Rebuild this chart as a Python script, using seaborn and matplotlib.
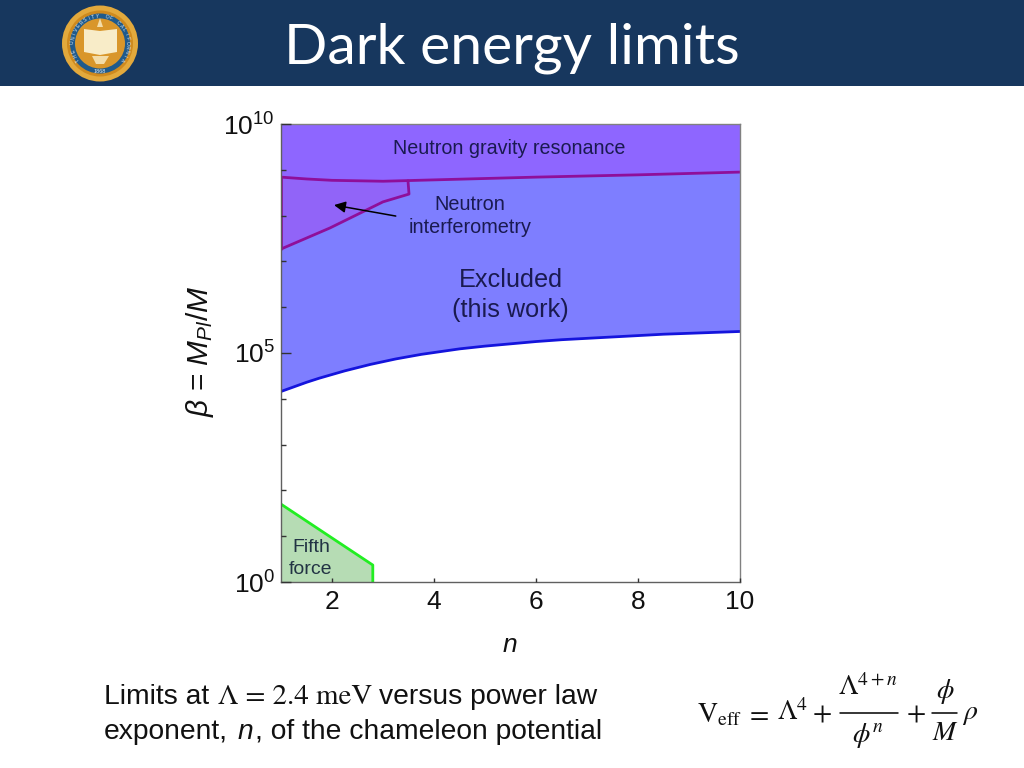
# Dark energy limits slide, chameleon exclusion plot
import numpy as np
import matplotlib
matplotlib.use('Agg')
import matplotlib.pyplot as plt
from matplotlib.patches import Circle, Rectangle, Polygon
import seaborn as sns

# values are log10(beta)
blue_n = [1, 1.25, 1.5, 1.75, 2, 2.25, 2.5, 2.75, 3, 3.25, 3.5, 3.75, 4, 4.5, 5, 5.5, 6, 6.5, 7, 7.5, 8, 8.5, 9, 9.5, 10]
blue_log = [4.16, 4.26, 4.36, 4.45, 4.53, 4.61, 4.68, 4.75, 4.81, 4.87, 4.92, 4.97, 5.01, 5.09, 5.15, 5.20, 5.25,
            5.29, 5.32, 5.35, 5.38, 5.41, 5.43, 5.45, 5.47]
gravity_n = [1, 1.5, 2, 3, 4, 6, 8, 10]
gravity_log = [8.84, 8.80, 8.77, 8.75, 8.78, 8.84, 8.89, 8.95]
interf_n = [1, 1.96, 3.0, 3.51, 3.49]
interf_log = [7.27, 7.73, 8.30, 8.47, 8.76]
fifth_n = [1, 2.80, 2.80]
fifth_log = [1.70, 0.37, 0]
x_ticks = [2, 4, 6, 8, 10]
y_minor = [1, 2, 3, 4, 6, 7, 8, 9]
y_major = [0, 5, 10]

sns.set_theme(style='white')
plt.rcParams['font.family'] = ['Liberation Sans', 'DejaVu Sans']
plt.rcParams['text.color'] = '#111111'
plt.rcParams['mathtext.fontset'] = 'custom'
plt.rcParams['mathtext.rm'] = 'Liberation Sans'
plt.rcParams['mathtext.it'] = 'Liberation Sans:italic'
plt.rcParams['mathtext.bf'] = 'Liberation Sans:bold'

fig = plt.figure(figsize=(10.24, 7.68), dpi=100, facecolor='white')

# backdrop axes in pixel units for the slide furniture
bg = fig.add_axes([0, 0, 1, 1])
bg.set_xlim(0, 1024)
bg.set_ylim(768, 0)
bg.axis('off')
navy = '#17375e'
bg.add_patch(Rectangle((0, 0), 1024, 86, color=navy, lw=0))
bg.text(512, 63, 'Dark energy limits', color='white', fontsize=41, family='Lato',
        ha='center', va='baseline')

# university seal
cx, cy = 100, 43.5
bg.add_patch(Circle((cx, cy), 38, color='#e3a93c', lw=0))
bg.add_patch(Circle((cx, cy), 33, color='#cf8a1e', lw=0))
bg.add_patch(Circle((cx, cy), 30, color='#1f5a8c', lw=0))
bg.add_patch(Circle((cx, cy), 25, color='#d9962a', lw=0))
bg.add_patch(Polygon([(84, 29), (100, 31), (117, 29), (117, 52), (100, 55), (84, 52)],
                     color='#f8ecc8', lw=0))
bg.add_patch(Polygon([(92, 56), (109, 56), (104, 64), (96, 64)], color='#f3dca8', lw=0))
bg.add_patch(Polygon([(100, 18), (103, 27), (97, 27)], color='#f3dca8', lw=0))
seal_text = 'THE UNIVERSITY OF CALIFORNIA'
for i, ch in enumerate(seal_text):
    ang = np.radians(-125 + i * 250 / (len(seal_text) - 1))
    bg.text(cx + 27.5 * np.sin(ang), cy - 27.5 * np.cos(ang), ch, fontsize=3.6, color='#dde8f0',
            ha='center', va='center', rotation=-np.degrees(ang))
bg.text(cx, cy + 28, '1868', fontsize=4, color='#dde8f0', ha='center', va='center')

# caption
cap = 20.3
bg.text(104, 704, 'Limits at', fontsize=cap, va='baseline')
bg.text(218, 704, '\u039b = 2.4 meV', fontsize=20.8, va='baseline', family='STIXGeneral')
bg.text(379, 704, 'versus power law', fontsize=cap, va='baseline')
bg.text(104, 739, 'exponent,', fontsize=cap, va='baseline')
bg.text(238, 739, 'n', fontsize=cap, va='baseline', style='italic')
bg.text(255, 739, ', of the chameleon potential', fontsize=cap, va='baseline')

# effective potential
stix = dict(math_fontfamily='stix', fontsize=20, va='center', ha='center')
bg.text(697, 715, r'$\mathrm{V_{eff}}$', math_fontfamily='stix', fontsize=20, va='center', ha='left')
bg.text(757, 714, r'$=$', **stix)
bg.text(777, 713, r'$\Lambda^{4}$', math_fontfamily='stix', fontsize=20, va='center', ha='left')
bg.text(822, 714, r'$+$', **stix)
bg.text(868, 688, r'$\Lambda^{4+n}$', **stix)
bg.plot([840, 898], [713, 713], color='black', lw=1.1)
bg.text(868, 735, r'$\phi^{n}$', **stix)
bg.text(916, 714, r'$+$', **stix)
bg.text(945, 692, r'$\phi$', **stix)
bg.plot([932, 957], [713, 713], color='black', lw=1.1)
bg.text(945, 733, r'$M$', **stix)
bg.text(970, 714, r'$\rho$', **stix)

# main chart
ax = fig.add_axes([281 / 1024, 1 - 582 / 768, 459 / 1024, 458 / 768])
ax.set_yscale('log')
ax.set_xlim(1, 10)
ax.set_ylim(1, 1e10)
ax.set_axisbelow(False)

blue_y = 10 ** np.array(blue_log)
gravity_y = 10 ** np.array(gravity_log)
interf_y = 10 ** np.array(interf_log)
fifth_y = np.maximum(10 ** np.array(fifth_log), 1)

ax.fill_between(blue_n, blue_y, 1e10, color='#7e7eff', lw=0)
ax.fill_between(gravity_n, gravity_y, 1e10, color='#8e66ff', lw=0)
ax.fill(interf_n + [1], list(interf_y) + [10 ** gravity_log[0]], color='#9164f8', lw=0)
ax.fill_between(fifth_n, fifth_y, 1, color='#b6dcb4', lw=0)

sns.lineplot(x=blue_n, y=blue_y, ax=ax, color='#1414dc', lw=2, estimator=None, sort=False)
sns.lineplot(x=gravity_n, y=gravity_y, ax=ax, color='#8f0f9a', lw=2, estimator=None, sort=False)
sns.lineplot(x=interf_n, y=interf_y, ax=ax, color='#8f0f9a', lw=2, estimator=None, sort=False)
sns.lineplot(x=[1, 1], y=[10 ** interf_log[0], 10 ** gravity_log[0]], ax=ax, color='#8f0f9a',
             lw=2, estimator=None, sort=False)
sns.lineplot(x=fifth_n, y=fifth_y, ax=ax, color='#22ee22', lw=2, estimator=None, sort=False)

ink = '#1a1a50'
ax.text(5.47, 10 ** 9.46, 'Neutron gravity resonance', fontsize=14.2, color=ink, ha='center', va='center')
ax.text(4.7, 10 ** 8.24, 'Neutron', fontsize=14.3, color=ink, ha='center', va='center')
ax.text(4.7, 10 ** 7.73, 'interferometry', fontsize=14.3, color=ink, ha='center', va='center')
ax.text(5.5, 10 ** 6.6, 'Excluded', fontsize=18.2, color=ink, ha='center', va='center')
ax.text(5.5, 10 ** 5.93, '(this work)', fontsize=18.2, color=ink, ha='center', va='center')
ax.text(1.6, 10 ** 0.76, 'Fifth', fontsize=14, color='#223344', ha='center', va='center')
ax.text(1.58, 10 ** 0.27, 'force', fontsize=14, color='#223344', ha='center', va='center')
ax.annotate('', xy=(2.04, 10 ** 8.23), xytext=(3.25, 10 ** 7.99),
            arrowprops=dict(arrowstyle='-|>', color='black', lw=1.1, mutation_scale=17,
                            shrinkA=0, shrinkB=0))

ax.set_xticks(x_ticks)
ax.set_yticks([10.0 ** v for v in y_major])
ax.set_yticklabels(['$\\mathrm{10^{%d}}$' % v for v in y_major])
ax.set_yticks([10.0 ** v for v in y_minor], minor=True)
ax.set_yticklabels([], minor=True)
ax.tick_params(axis='x', which='major', bottom=True, direction='in', length=3, width=1.0, color='#333333',
               labelsize=19, labelcolor='#111111', pad=5.5)
ax.tick_params(axis='y', which='major', left=True, direction='in', length=7.5, width=1.0, color='#333333',
               labelsize=19, labelcolor='#111111', pad=4.5)
ax.tick_params(axis='y', which='minor', left=True, direction='in', length=3.5, width=1.0, color='#333333')
for s in ax.spines.values():
    s.set_color('#808080')
    s.set_linewidth(1.0)
ax.spines['left'].set_color('#606060')
ax.spines['bottom'].set_color('#606060')

# axis titles
bg.text(510, 645, 'n', fontsize=19, style='italic', ha='center', va='center', color='#111111')
bg.text(200, 351, r'$\beta$ = $\mathit{M_{Pl}/M}$', fontsize=21.5, rotation=90, ha='center', va='center',
        color='#111111')

fig.savefig('out.png', dpi=100)
